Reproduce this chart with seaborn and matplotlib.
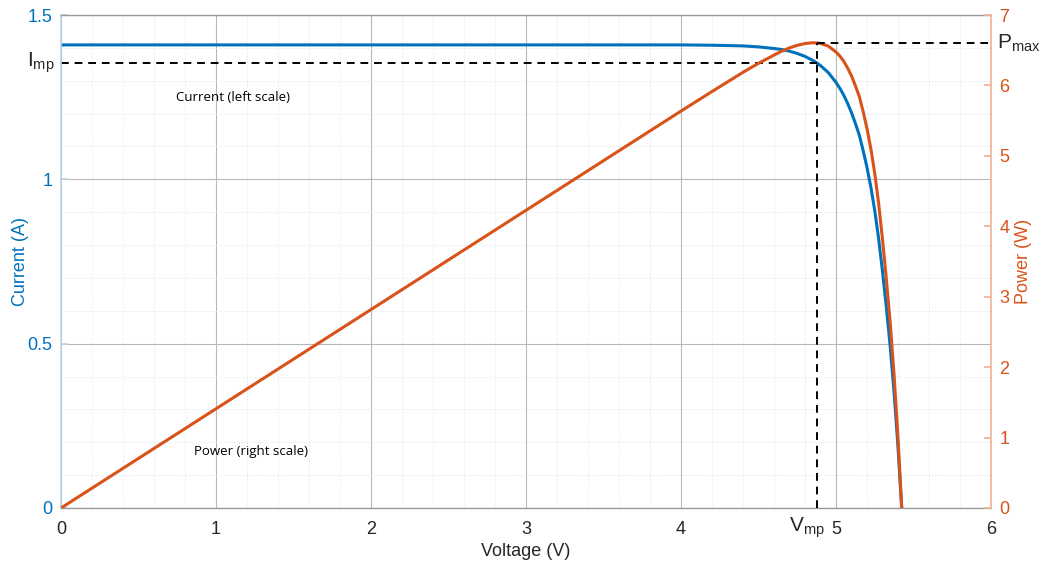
import matplotlib
matplotlib.use("Agg")
import matplotlib.pyplot as plt
import seaborn as sns
import pandas as pd
from matplotlib.ticker import MultipleLocator

# ---- data ----
voltage = [0.0, 1.0, 2.0, 3.0, 3.5, 4.0, 4.2, 4.4, 4.5, 4.6, 4.65, 4.7, 4.75,
           4.8, 4.85, 4.877, 4.9, 4.95, 5.0, 5.025, 5.05, 5.075, 5.1, 5.125,
           5.15, 5.175, 5.2, 5.225, 5.25, 5.275, 5.3, 5.325, 5.35, 5.375,
           5.4, 5.424]
current = [1.409, 1.409, 1.409, 1.409, 1.409, 1.409, 1.408, 1.406, 1.403, 1.398,
           1.395, 1.390, 1.383, 1.374, 1.362, 1.354, 1.346, 1.325, 1.295, 1.277,
           1.256, 1.231, 1.203, 1.170, 1.135, 1.088, 1.036, 0.976, 0.905, 0.820,
           0.720, 0.610, 0.490, 0.350, 0.185, 0.0]
power = [0.0, 1.409, 2.818, 4.227, 4.9315, 5.636, 5.9136, 6.1864, 6.3135, 6.4308,
         6.4868, 6.533, 6.5693, 6.5952, 6.6057, 6.6033, 6.5954, 6.5588, 6.475,
         6.4169, 6.3428, 6.2473, 6.1353, 5.9963, 5.8453, 5.6304, 5.3872, 5.0996,
         4.7513, 4.3255, 3.816, 3.2483, 2.6215, 1.8813, 0.999, 0.0]
v_mp = 4.877
i_mp = 1.354
p_max = 6.603

x_ticks = [0, 1, 2, 3, 4, 5, 6]
left_ticks = [0, 0.5, 1, 1.5]
left_tick_labels = ["0", "0.5", "1", "1.5"]
right_ticks = [0, 1, 2, 3, 4, 5, 6, 7]

BLUE = "#0072BD"
ORANGE = "#D95319"
DARK = "#262626"

sns.set_theme(style="white")
plt.rcParams["font.family"] = ["Liberation Sans", "DejaVu Sans"]
plt.rcParams["mathtext.fontset"] = "custom"
plt.rcParams["mathtext.rm"] = "Liberation Sans"

df = pd.DataFrame({"Voltage": voltage, "Current": current, "Power": power})

fig = plt.figure(figsize=(10.39, 5.62), dpi=100)
ax = fig.add_axes([61 / 1039, 1 - 508 / 562, 930 / 1039, 493 / 562])
ax2 = ax.twinx()

# grid
ax.set_axisbelow(True)
ax.xaxis.set_major_locator(MultipleLocator(1))
ax.xaxis.set_minor_locator(MultipleLocator(0.2))
ax.yaxis.set_major_locator(MultipleLocator(0.5))
ax.yaxis.set_minor_locator(MultipleLocator(0.1))
ax.grid(which="major", color="#b8b8b8", linewidth=0.8, linestyle="-")
ax.grid(which="minor", color="#dce5ee", linewidth=0.7, linestyle=":")

sns.lineplot(data=df, x="Voltage", y="Current", ax=ax, color=BLUE, linewidth=2.2,
             sort=False)
sns.lineplot(data=df, x="Voltage", y="Power", ax=ax2, color=ORANGE, linewidth=2.2,
             sort=False)

ax.set_xlim(0, 6)
ax.set_ylim(0, 1.5)
ax2.set_ylim(0, 7)
ax.set_xticks(x_ticks)
ax.set_yticks(left_ticks)
ax.set_yticklabels(left_tick_labels)
ax2.set_yticks(right_ticks)
ax2.grid(False)

# dashed guide lines (in data coordinates)
dash = (0, (4, 3))
ax.plot([0, v_mp], [i_mp, i_mp], color="black", linestyle=dash, linewidth=1.4)
ax2.plot([v_mp, v_mp], [0, p_max], color="black", linestyle=dash, linewidth=1.4)
ax2.plot([v_mp, 6], [p_max, p_max], color="black", linestyle=dash, linewidth=1.4)

# labels
ax.set_xlabel("Voltage (V)", color=DARK, fontsize=13, labelpad=4)
ax.set_ylabel("Current (A)", color=BLUE, fontsize=13)
ax2.set_ylabel("Power (W)", color=ORANGE, fontsize=13)
ax.yaxis.set_label_coords(-0.0344, 0.5)
ax2.yaxis.set_label_coords(1.0262, 0.5)

ax.tick_params(axis="x", colors=DARK, labelsize=13, direction="in", length=5,
               width=0.8, pad=9, which="major")
ax.tick_params(axis="x", which="minor", length=0)
ax.tick_params(axis="y", colors="#b9d5ea", labelcolor=BLUE, labelsize=13,
               direction="in", length=5, pad=6, which="major")
ax.tick_params(axis="y", which="minor", length=0)
ax2.tick_params(axis="y", colors="#f0b49a", labelcolor=ORANGE, labelsize=13,
                direction="in", length=5, pad=6)

for s in ["top", "bottom"]:
    ax.spines[s].set_color("#9a9a9a")
    ax.spines[s].set_linewidth(1.0)
ax.spines["left"].set_color("#b9d5ea")
ax2.spines["left"].set_visible(False)
ax2.spines["top"].set_visible(False)
ax2.spines["bottom"].set_visible(False)
ax2.spines["right"].set_color("#f0b49a")
ax.spines["right"].set_visible(False)

# annotations
ax.text(-0.0065, i_mp, r"$\mathregular{I_{mp}}$", transform=ax.get_yaxis_transform(),
        ha="right", va="center", fontsize=15, color=DARK)
ax.text(4.93, -0.0142, r"$\mathregular{V_{mp}}$", transform=ax.get_xaxis_transform(),
        ha="right", va="top", fontsize=15, color=DARK)
ax2.text(1.006, p_max, r"$\mathregular{P_{max}}$", transform=ax2.get_yaxis_transform(),
         ha="left", va="center", fontsize=15, color=DARK)
ax.text(1.11, 1.25, "Current (left scale)", ha="center", va="center",
        fontsize=9.5, color="black", family=["Open Sans", "DejaVu Sans"])
ax.text(1.225, 0.173, "Power (right scale)", ha="center", va="center",
        fontsize=9.5, color="black", family=["Open Sans", "DejaVu Sans"])

fig.savefig("out.png", dpi=100)
